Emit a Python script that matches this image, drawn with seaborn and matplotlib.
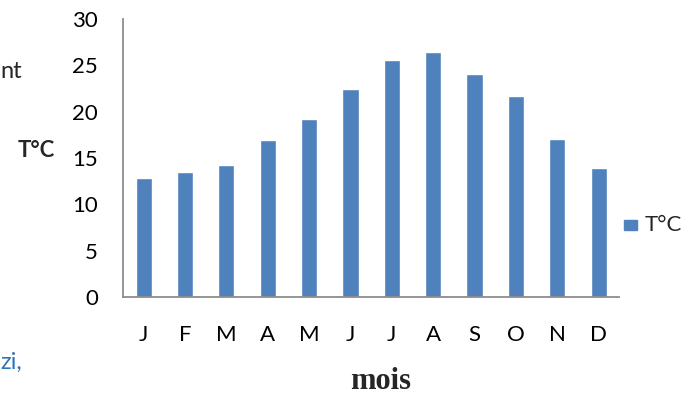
import matplotlib
matplotlib.use("Agg")
import matplotlib.pyplot as plt
import seaborn as sns
import pandas as pd

months = ["J", "F", "M", "A", "M", "J", "J", "A", "S", "O", "N", "D"]
temps = [12.8, 13.5, 14.2, 16.9, 19.2, 22.5, 25.6, 26.4, 24.1, 21.7, 17.0, 13.9]
series_name = "T°C"

df = pd.DataFrame({
    "pos": range(len(months)),
    "temp": temps,
    "serie": [series_name] * len(months),
})

sns.set_theme(style="white")
plt.rcParams["font.family"] = ["Lato", "DejaVu Sans"]

fig = plt.figure(figsize=(6.99, 3.97), dpi=100)
ax = fig.add_axes([0.176, 0.252, 0.710, 0.700])

sns.barplot(data=df, x="pos", y="temp", hue="serie", palette=["#4F81BD"],
            width=0.39, ax=ax, legend=False, saturation=1)

ax.set_ylim(0, 30)
ax.set_xlim(-0.5, len(months) - 0.5)
ax.set_yticks(range(0, 31, 5))
ax.set_xticks(range(len(months)))
ax.set_xticklabels(months)
ax.tick_params(axis="y", length=0, pad=18, labelsize=16, colors="#000000")
ax.tick_params(axis="x", length=0, pad=20, labelsize=16, colors="#000000")
ax.set_xlabel("")
ax.set_ylabel("")

for side in ["top", "right"]:
    ax.spines[side].set_visible(False)
for side in ["left", "bottom"]:
    ax.spines[side].set_color("#8C8C8C")
    ax.spines[side].set_linewidth(1.3)

# axis titles
fig.text(0.052, 0.620, "T°C", fontsize=16, fontweight="bold", ha="center", va="center")
fig.text(0.545, 0.040, "mois", fontsize=22, fontweight="bold", ha="center", va="center",
         family=["Liberation Serif", "DejaVu Serif"])

# legend
fig.patches.append(plt.Rectangle((624 / 699, 1 - 230 / 397), 13 / 699, 10 / 397,
                                 transform=fig.transFigure, color="#4F81BD"))
fig.text(645 / 699, 1 - 225 / 397, series_name, fontsize=16, ha="left", va="center")

# surrounding text fragments
fig.text(0.0, 1 - 71 / 397, "nt", fontsize=17, ha="left", va="center")
fig.text(0.0, 1 - 362 / 397, "zi,", fontsize=17, ha="left", va="center", color="#2E75B6")

fig.savefig("out.png", dpi=100)
